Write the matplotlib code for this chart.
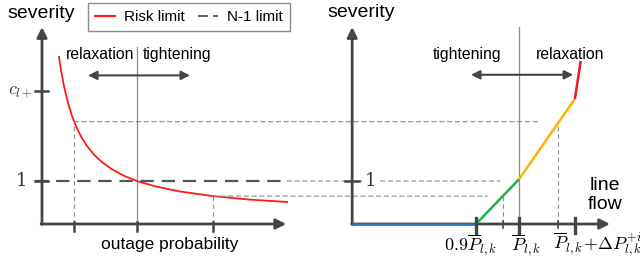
import matplotlib.pyplot as plt
from matplotlib.lines import Line2D
from matplotlib.patches import ConnectionPatch

plt.rcParams['font.family'] = ['Liberation Sans', 'DejaVu Sans']
plt.rcParams['mathtext.fontset'] = 'cm'

# left panel: risk limit curve
outage_prob = [0.179, 0.200, 0.232, 0.274, 0.316, 0.358, 0.411, 0.474, 0.547,
               0.632, 0.737, 0.863, 1.0, 1.189, 1.453, 1.8, 2.189, 2.579]
risk_severity = [3.886, 3.577, 3.200, 2.812, 2.512, 2.272, 2.035, 1.814, 1.614,
                 1.437, 1.272, 1.121, 1.0, 0.877, 0.756, 0.649, 0.567, 0.512]
n1_severity = 1.0
c_lplus = 3.09
prob_ticks = [0.337, 1.0, 1.8]
link_sev = [2.38, 0.649]

# right panel: piecewise severity of line flow (in units of P_bar)
flow_pts = [0.612, 0.9, 1.0, 1.13, 1.1435]
flow_sev = [0.0, 0.0, 1.04, 2.91, 3.79]
seg_colors = ['#2b74c4', '#1db04c', '#f8b600', '#f01818']
flow_ticks_major = [0.9, 1.0, 1.13]
flow_ticks_minor = [0.963, 1.091]
flow_labels = [r'$0.9\overline{P}_{l,k}$', r'$\overline{P}_{l,k}$',
               r'$\overline{P}_{l,k}\!+\!\Delta P^{+i}_{l,k}$']

dark = '#454545'
grey = '#8c8c8c'

fig = plt.figure(figsize=(6.4, 2.64), dpi=100)
axL = fig.add_axes([0, 0, 0.5, 1])
axR = fig.add_axes([0.5, 0, 0.5, 1])
axL.set_xlim(-0.442, 2.926)
axR.set_xlim(0.5372, 1.2814)
for ax in (axL, axR):
    ax.set_ylim(-0.930, 5.209)
    ax.axis('off')

ymax = 4.58
arr = dict(arrowstyle='-|>', lw=2, color=dark, mutation_scale=15, shrinkA=0, shrinkB=0)
dbl = dict(arrowstyle='<|-|>', lw=1.5, color=dark, mutation_scale=13, shrinkA=0, shrinkB=0)
thin = dict(color=grey, lw=0.8, dashes=(4, 3))

# ---- left panel ----
axL.annotate('', xy=(0, ymax), xytext=(0, -0.01), arrowprops=arr)
axL.annotate('', xy=(2.57, 0), xytext=(-0.01, 0), arrowprops=arr)
axL.plot([1.0, 1.0], [0, 4.12], color=grey, lw=0.9)
axL.plot([prob_ticks[0]] * 2, [0, link_sev[0]], **thin)
axL.plot([prob_ticks[2]] * 2, [0, link_sev[1]], **thin)
axL.plot([-0.074, 2.58], [n1_severity] * 2, color='#555555', lw=1.6, dashes=(6, 3.5))
axL.plot(outage_prob, risk_severity, color='#ff1a1a', lw=1.3)
for p in prob_ticks:
    axL.plot([p, p], [0.05, -0.16], color=dark, lw=1.8)
for s in (c_lplus, n1_severity):
    axL.plot([-0.074, 0.065], [s, s], color=dark, lw=1.8)
axL.text(-0.095, c_lplus, r'$c_{l+}$', ha='right', va='center', fontsize=13, color='#333344')
axL.text(-0.16, n1_severity, '1', ha='right', va='center', fontsize=13,
         color='#333344', family='DejaVu Serif')
axL.text(-0.368, 4.884, 'severity', ha='left', va='center', fontsize=14)
axL.text(0.253, 3.953, 'relaxation', ha='left', va='center', fontsize=11.3)
axL.text(1.063, 3.953, 'tightening', ha='left', va='center', fontsize=11.3)
axL.annotate('', xy=(0.485, 3.456), xytext=(1.558, 3.456), arrowprops=dbl)
axL.text(1.347, -0.47, 'outage probability', ha='center', va='center', fontsize=12.5)

# ---- right panel ----
axR.annotate('', xy=(0.612, ymax), xytext=(0.612, -0.01), arrowprops=arr)
axR.annotate('', xy=(1.2116, 0), xytext=(0.611, 0), arrowprops=arr)
axR.plot([1.0, 1.0], [0, 4.58], color=grey, lw=0.9)
axR.plot([flow_ticks_minor[0]] * 2, [0, 0.63], **thin)
axR.plot([flow_ticks_minor[1]] * 2, [0, 2.30], **thin)
for f in flow_ticks_major:
    axR.plot([f, f], [0.15, -0.2], color=dark, lw=2.4, zorder=5)
for f in flow_ticks_minor:
    axR.plot([f, f], [0.07, -0.1], color=dark, lw=1.2)
for i, c in enumerate(seg_colors):
    axR.plot(flow_pts[i:i + 2], flow_sev[i:i + 2], color=c, lw=1.8,
             solid_capstyle='butt', zorder=4)
axR.plot([0.595, 0.628], [n1_severity] * 2, color=dark, lw=1.8)
axR.text(0.5535, 4.907, 'severity', ha='left', va='center', fontsize=14)
axR.text(0.80, 3.953, 'tightening', ha='left', va='center', fontsize=11.3)
axR.text(1.0395, 3.953, 'relaxation', ha='left', va='center', fontsize=11.3)
axR.annotate('', xy=(0.8884, 3.47), xytext=(1.126, 3.47), arrowprops=dbl)
axR.text(1.2, 0.67, 'line\nflow', ha='center', va='center', fontsize=14, linespacing=1.15)
axR.text(0.8884, -0.48, flow_labels[0], ha='center', va='center', fontsize=13)
axR.text(1.0163, -0.48, flow_labels[1], ha='center', va='center', fontsize=13)
axR.text(1.079, -0.48, flow_labels[2], ha='left', va='center', fontsize=13)

# ---- dashed links between the panels ----
links = [((prob_ticks[0], link_sev[0]), (1.0465, link_sev[0])),
         ((prob_ticks[2], link_sev[1]), (0.9256, link_sev[1])),
         ((2.58, n1_severity), (0.9558, n1_severity))]
for a, b in links:
    cp = ConnectionPatch(xyA=a, coordsA=axL.transData, xyB=b, coordsB=axR.transData,
                         color=grey, lw=0.8, linestyle=(0, (4, 3)), zorder=1)
    fig.add_artist(cp)
t1 = axR.text(0.6419, n1_severity, '1', ha='left', va='center', fontsize=13, color='#333344',
              family='DejaVu Serif', bbox=dict(facecolor='white', edgecolor='none', pad=1))
t1.set_zorder(5)
axR.set_zorder(2)

handles = [Line2D([], [], color='#ff1a1a', lw=1.5),
           Line2D([], [], color=dark, lw=1.2, dashes=(6, 3))]
fig.legend(handles, ['Risk limit', 'N-1 limit'], loc='upper left',
           bbox_to_anchor=(88 / 640, 1 - 3 / 264), ncol=2, frameon=True, fancybox=False,
           edgecolor=grey, fontsize=11, handlelength=1.3, columnspacing=0.9,
           borderpad=0.45, handletextpad=0.6, borderaxespad=0, framealpha=1)

plt.savefig('out.png', dpi=100)
